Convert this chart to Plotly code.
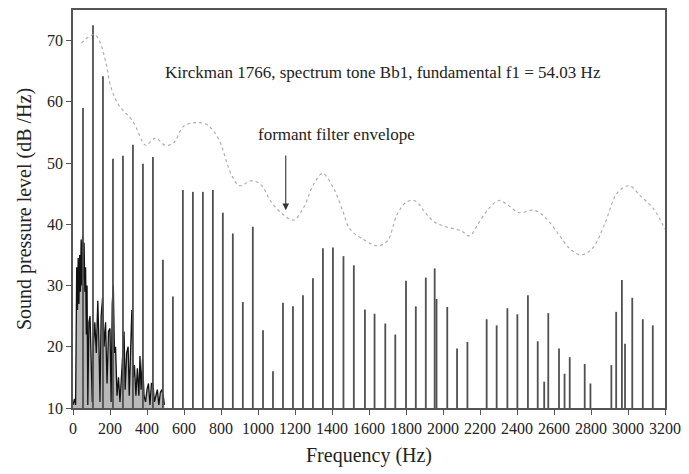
import plotly.graph_objects as go

# Harmonic partials (Hz) and their levels (dB/Hz)
harm_hz = [54, 108, 162, 216, 270, 324, 378, 432, 486, 540, 594, 648, 702, 756, 810,
           864, 918, 972, 1027, 1081, 1135, 1189, 1243, 1297, 1351, 1405, 1462, 1518,
           1578, 1630, 1688, 1742, 1800, 1853, 1907, 1955, 1965, 2023, 2076, 2132,
           2236, 2290, 2348, 2402, 2459, 2512, 2547, 2569, 2627, 2657, 2685, 2766,
           2797, 2910, 2936, 2967, 2984, 3023, 3080, 3134]
harm_db = [59, 72.5, 64.2, 50.7, 51.2, 53, 49.9, 51, 34.2, 28.2, 45.6, 45.3, 45.3, 45.6, 41.9,
           38.5, 27.3, 39.6, 22.7, 16, 27.2, 26.6, 28.4, 31.2, 36.1, 36.2, 34.8, 33.3,
           26.1, 25.4, 23.8, 22, 30.8, 26.6, 31.3, 32.8, 27.8, 26.5, 19.7, 20.8,
           24.5, 23.5, 26.3, 25.3, 28.4, 20.9, 14.3, 25.5, 19.7, 15.6, 18.3, 17.2,
           14, 17, 25.7, 30.9, 20.5, 28, 24.5, 23.5]

# Low-frequency noise floor of the spectrum (Hz, dB/Hz)
noise_hz = [0, 8, 14, 20, 24, 28, 32, 36, 40, 44, 48, 52, 56, 60, 64, 68, 72, 76, 80,
            86, 92, 98, 104, 110, 118, 126, 134, 140, 146, 152, 160, 168, 176, 184, 192,
            200, 206, 212, 218, 224, 230, 238, 246, 254, 262, 270, 276, 282, 290, 298,
            304, 310, 318, 326, 332, 340, 348, 356, 362, 368, 376, 384, 392, 400, 408,
            416, 424, 432, 440, 448, 456, 464, 472, 480, 488, 494]
noise_db = [10.5, 11.5, 10.5, 33, 26, 34.5, 27, 35, 29, 37.5, 30, 38, 31, 37, 29, 33, 22, 30, 10.5,
            24, 25, 16, 11, 20, 24, 19, 27.5, 21, 11, 25, 28, 20, 24, 14, 22.5,
            23, 11, 27, 30, 19, 20, 12, 15, 11, 15, 21, 22.5, 13, 19, 20,
            12, 18, 26, 15, 17, 12, 16.5, 12, 18.5, 13, 18, 12, 11, 13, 14,
            10.5, 14, 14, 11, 12, 13, 10.5, 12.5, 13, 12, 10.5]

# Formant filter envelope (Hz, dB/Hz)
env_hz = [46, 80, 117, 144, 180, 206, 251, 322, 393, 420, 446, 500, 544, 597, 660, 722, 784,
          855, 900, 962, 1015, 1068, 1131, 1193, 1246, 1300, 1349, 1410, 1460, 1495, 1566,
          1646, 1700, 1753, 1806, 1851, 1904, 1957, 2028, 2100, 2144, 2188, 2251, 2304,
          2357, 2411, 2491, 2553, 2624, 2686, 2748, 2811, 2873, 2944, 3006, 3068, 3139, 3200]
env_db = [69.6, 70.5, 71.0, 69.9, 66.1, 62.3, 59.3, 56.9, 52.9, 53.5, 54.1, 52.9, 53.3, 56.0,
          56.6, 56.3, 54.1, 48.2, 46.3, 47.1, 46.5, 43.8, 41.7, 40.7, 42.7, 46.5, 48.3, 45.8,
          42.0, 39.3, 37.6, 36.5, 37.3, 41.7, 43.7, 43.8, 41.9, 40.3, 39.5, 38.9, 38.1, 40.0,
          42.7, 43.9, 43.0, 41.9, 42.3, 41.1, 38.4, 36.0, 35.0, 36.2, 40.0, 45.2, 46.3, 44.6,
          42.5, 39.2]

x_ticks = list(range(0, 3201, 200))
y_ticks = [10, 20, 30, 40, 50, 60, 70]

FLOOR = 10
SERIF = "Liberation Serif, Times New Roman, serif"

fig = go.Figure()

# noise floor as a jagged, shaded line
fig.add_trace(go.Scatter(x=noise_hz, y=noise_db, mode="lines", fill="tozeroy",
                         fillcolor="rgba(20,20,20,0.3)",
                         line=dict(color="#111111", width=1.3), hoverinfo="skip",
                         showlegend=False))

# harmonic partials as vertical spikes
sx, sy = [], []
for f, d in zip(harm_hz, harm_db):
    sx += [f, f, None]
    sy += [FLOOR, d, None]
fig.add_trace(go.Scatter(x=sx, y=sy, mode="lines",
                         line=dict(color="#505050", width=1.8), showlegend=False))

# envelope
fig.add_trace(go.Scatter(x=env_hz, y=env_db, mode="lines", line_shape="spline",
                         line=dict(color="#a8a8a8", width=1.1, dash="dot"), showlegend=False))

fig.add_annotation(x=1675, y=64.8, xref="x", yref="y", showarrow=False,
                   text="Kirckman 1766, spectrum tone Bb1, fundamental f1 = 54.03 Hz",
                   font=dict(family=SERIF, size=17, color="#222222"))
fig.add_annotation(x=1424, y=54.7, xref="x", yref="y", showarrow=False,
                   text="formant filter envelope",
                   font=dict(family=SERIF, size=17, color="#222222"))
fig.add_annotation(x=1150, y=42.3, ax=1150, ay=51.5, xref="x", yref="y",
                   axref="x", ayref="y", text="", showarrow=True,
                   arrowhead=2, arrowsize=1.2, arrowwidth=1.1, arrowcolor="#333333")

axis_common = dict(showgrid=False, zeroline=False, showline=True, linecolor="#555555",
                   linewidth=1.5, mirror=True, ticks="outside", ticklen=5,
                   tickcolor="#555555", tickwidth=1,
                   tickfont=dict(family=SERIF, size=16, color="#222222"))

fig.update_xaxes(range=[0, 3200], tickvals=x_ticks, ticktext=[str(v) for v in x_ticks],
                 title=dict(text="Frequency (Hz)", font=dict(family=SERIF, size=20, color="#222222"),
                            standoff=12),
                 **axis_common)
fig.update_yaxes(range=[10, 75], tickvals=y_ticks, ticktext=[str(v) for v in y_ticks],
                 title=dict(text="Sound pressure level (dB /Hz)",
                            font=dict(family=SERIF, size=20, color="#222222"), standoff=10),
                 **axis_common)

fig.update_layout(width=689, height=474, margin=dict(l=73, r=16, t=8, b=66),
                  plot_bgcolor="white", paper_bgcolor="white", showlegend=False)

fig.write_html("out.html")
